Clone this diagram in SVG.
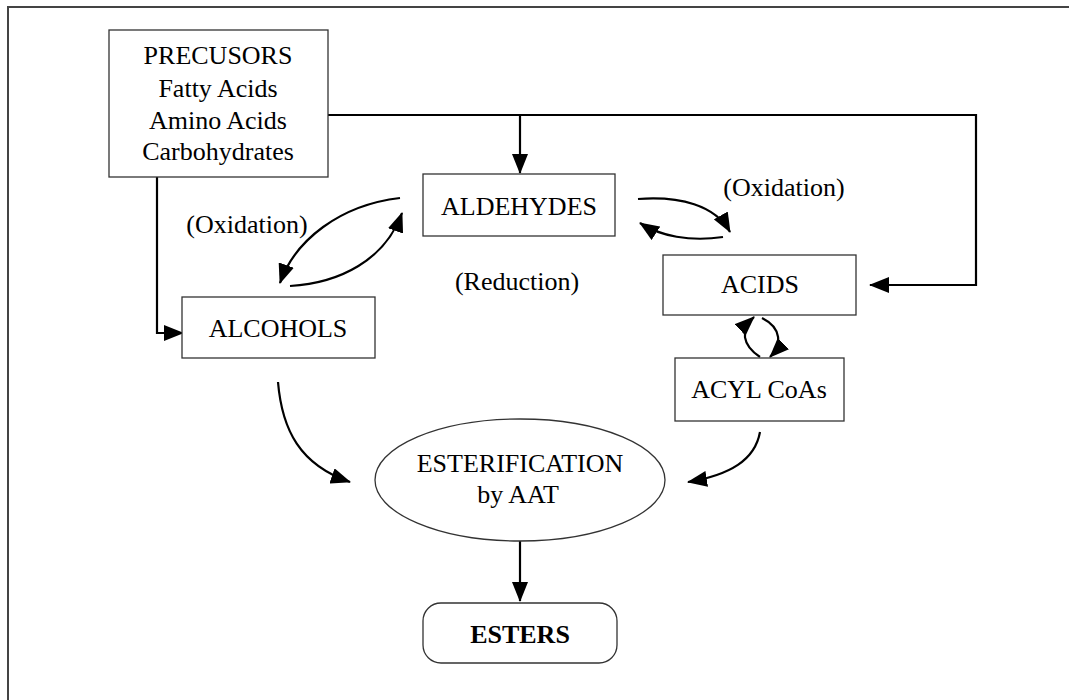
<svg xmlns="http://www.w3.org/2000/svg" width="1069" height="700" viewBox="0 0 1069 700">
<style>
.box{fill:#fff;stroke:#333;stroke-width:1.3}
.t{font-family:"Liberation Serif","Times New Roman",serif;font-size:26px;fill:#000;text-anchor:middle}
.c{fill:none;stroke:#000;stroke-width:2.2}
</style>
<defs>
<marker id="ah" markerUnits="userSpaceOnUse" markerWidth="20" markerHeight="16" refX="19" refY="8" orient="auto" viewBox="0 0 20 16">
<path d="M0,0 L20,8 L0,16 z" fill="#000"/>
</marker>
</defs>
<rect width="1069" height="700" fill="#fff"/>
<g id="frame" fill="none" stroke="#444" stroke-width="2">
<path d="M8,700 L8,7 L1069,7"/>
</g>
<g id="labels">
<text class="t" x="247" y="233">(Oxidation)</text>
<text class="t" x="784" y="196">(Oxidation)</text>
<text class="t" x="517" y="290">(Reduction)</text>
</g>
<g id="connectors">
<path class="c" d="M328,115 L976,115 L976,285 L870,285" marker-end="url(#ah)"/>
<path class="c" d="M520,115 L520,173" marker-end="url(#ah)"/>
<path class="c" d="M157,177 L157,333 L183,333" marker-end="url(#ah)"/>
<path class="c" d="M638,199 C680,196 715,205 730,232" marker-end="url(#ah)"/>
<path class="c" d="M723,237 C690,242 660,236 640,223" marker-end="url(#ah)"/>
<path class="c" d="M400,198 C340,205 295,240 280,283" marker-end="url(#ah)"/>
<path class="c" d="M290,286 C340,283 385,260 402,213" marker-end="url(#ah)"/>
<path class="c" d="M278,382 C282,430 300,465 350,482" marker-end="url(#ah)"/>
<path class="c" d="M760,432 C755,460 730,475 688,482" marker-end="url(#ah)"/>
<path class="c" d="M760,357 C742,345 740,330 754,317" marker-end="url(#ah)"/>
<path class="c" d="M762,318 C782,328 782,345 770,357" marker-end="url(#ah)"/>
<path class="c" d="M520,540 L520,601" marker-end="url(#ah)"/>
</g>
<g id="precursors">
<rect class="box" x="109" y="30" width="219" height="147"/>
<text class="t" x="218" y="64">PRECUSORS</text>
<text class="t" x="218" y="97">Fatty Acids</text>
<text class="t" x="218" y="129">Amino Acids</text>
<text class="t" x="218" y="160">Carbohydrates</text>
</g>
<g id="aldehydes">
<rect class="box" x="423" y="174" width="192" height="62"/>
<text class="t" x="519" y="215">ALDEHYDES</text>
</g>
<g id="acids">
<rect class="box" x="663" y="255" width="193" height="60"/>
<text class="t" x="760" y="293">ACIDS</text>
</g>
<g id="alcohols">
<rect class="box" x="182" y="297" width="193" height="61"/>
<text class="t" x="278" y="337">ALCOHOLS</text>
</g>
<g id="acylcoas">
<rect class="box" x="675" y="358" width="169" height="63"/>
<text class="t" x="759" y="398">ACYL CoAs</text>
</g>
<g id="esterification">
<ellipse class="box" cx="520" cy="480" rx="145" ry="61"/>
<text class="t" x="520" y="472">ESTERIFICATION</text>
<text class="t" x="518" y="503">by AAT</text>
</g>
<g id="esters">
<rect class="box" x="423" y="603" width="194" height="60" rx="18"/>
<text class="t" x="520" y="643" font-weight="bold">ESTERS</text>
</g>
</svg>
